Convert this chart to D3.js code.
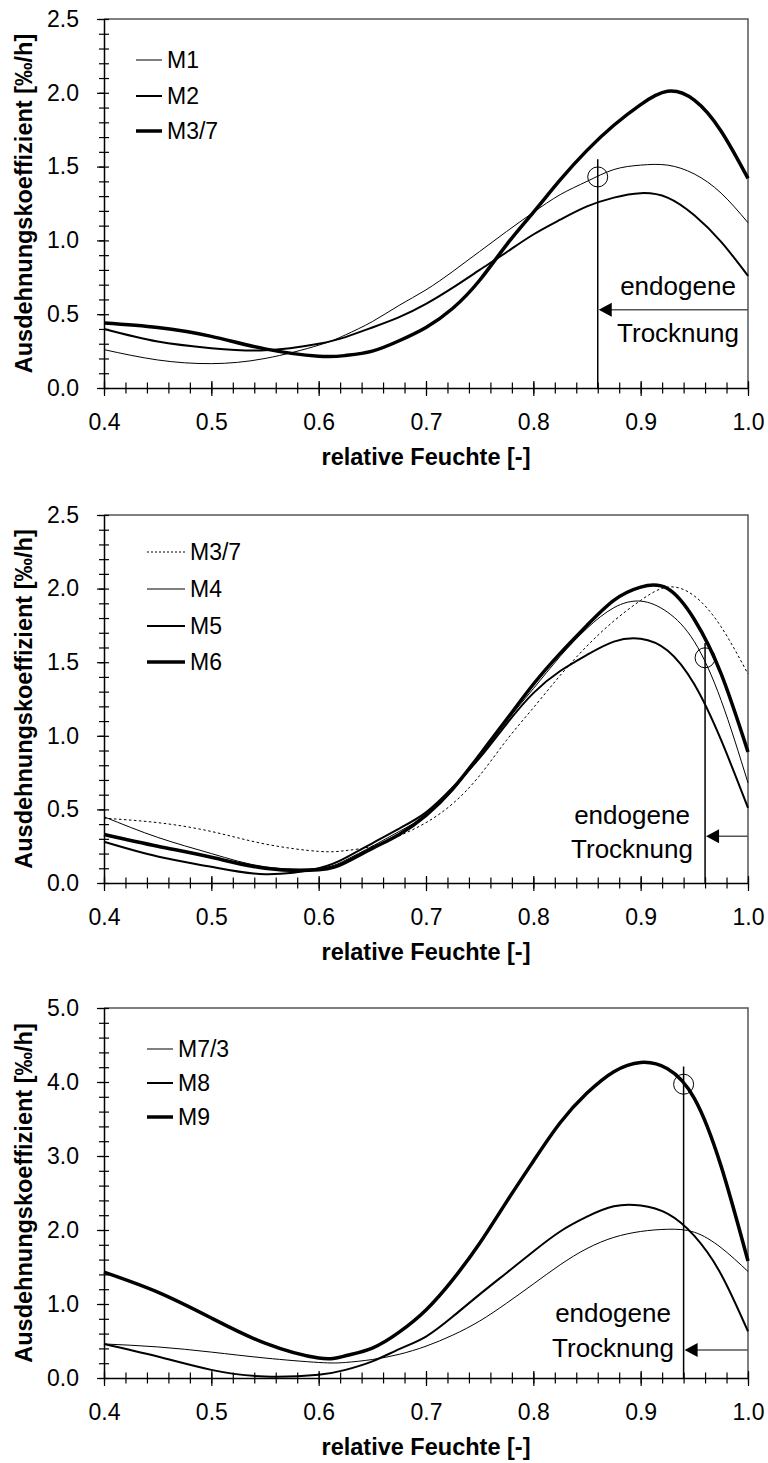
<!DOCTYPE html>
<html>
<head>
<meta charset="utf-8">
<script src="https://cdn.jsdelivr.net/npm/d3@7"></script>
<style>
  body { margin: 0; background: #fff; }
  svg { display: block; font-family: "Liberation Sans", Arial, sans-serif; }
</style>
</head>
<body>
<div id="chart"></div>
<script>
// relative humidity grid shared by all curves
const rh = [0.40, 0.45, 0.50, 0.55, 0.60, 0.625, 0.65, 0.675, 0.70, 0.725, 0.75,
            0.775, 0.80, 0.825, 0.85, 0.875, 0.90, 0.925, 0.95, 0.975, 1.00];

// panel 1
const m1  = [0.26, 0.19, 0.165, 0.20, 0.29, 0.36, 0.45, 0.56, 0.665, 0.79, 0.925,
             1.06, 1.19, 1.31, 1.40, 1.48, 1.51, 1.51, 1.45, 1.32, 1.12];
const m2  = [0.40, 0.315, 0.27, 0.255, 0.30, 0.345, 0.41, 0.48, 0.57, 0.68, 0.80,
             0.92, 1.04, 1.14, 1.23, 1.29, 1.32, 1.29, 1.17, 0.99, 0.76];
const m37 = [0.44, 0.41, 0.35, 0.265, 0.215, 0.22, 0.25, 0.32, 0.41, 0.54, 0.73,
             0.97, 1.19, 1.41, 1.61, 1.78, 1.92, 2.01, 1.95, 1.74, 1.42];
// panel 2
const m4  = [0.45, 0.31, 0.20, 0.11, 0.10, 0.155, 0.25, 0.35, 0.46, 0.63, 0.86,
             1.10, 1.32, 1.54, 1.73, 1.87, 1.915, 1.84, 1.64, 1.24, 0.68];
const m5  = [0.28, 0.18, 0.11, 0.06, 0.10, 0.17, 0.27, 0.37, 0.48, 0.65, 0.85,
             1.08, 1.29, 1.44, 1.55, 1.64, 1.66, 1.58, 1.35, 0.97, 0.51];
const m6  = [0.33, 0.25, 0.175, 0.10, 0.09, 0.14, 0.235, 0.33, 0.46, 0.64, 0.87,
             1.11, 1.35, 1.56, 1.75, 1.92, 2.01, 2.00, 1.79, 1.42, 0.89];
// panel 3
const m73 = [0.46, 0.42, 0.35, 0.27, 0.21, 0.21, 0.25, 0.32, 0.43, 0.58, 0.77,
             1.01, 1.27, 1.53, 1.75, 1.90, 1.98, 2.01, 1.97, 1.76, 1.44];
const m8  = [0.46, 0.29, 0.11, 0.02, 0.045, 0.11, 0.225, 0.39, 0.56, 0.83, 1.13,
             1.42, 1.71, 1.98, 2.18, 2.32, 2.33, 2.22, 1.92, 1.40, 0.63];
const m9  = [1.43, 1.16, 0.81, 0.47, 0.27, 0.30, 0.405, 0.62, 0.92, 1.33, 1.82,
             2.38, 2.93, 3.45, 3.85, 4.14, 4.265, 4.18, 3.78, 2.86, 1.58];

// endogenous drying markers (one per panel)
const dryRh    = [0.86, 0.96, 0.94];
const dryValue = [1.43, 1.53, 3.97];
const dryTop   = [1.55, 1.63, 4.21];
const dryArrow = [0.53, 0.317, 0.38];

// tick labels
const xTicks  = [0.4, 0.5, 0.6, 0.7, 0.8, 0.9, 1.0];
const yTicksA = [0, 0.5, 1.0, 1.5, 2.0, 2.5];
const yTicksB = [0, 1, 2, 3, 4, 5];

const width = 768, height = 1463;
const left = 104, right = 748;
const fmt = d3.format(".1f");

const svg = d3.select("#chart").append("svg")
    .attr("width", width)
    .attr("height", height);

const panels = [
    {
        top: 19, bottom: 388, yMax: 2.5, yTicks: yTicksA, minor: 0.1,
        series: [
            { name: "M1", v: m1, w: 1 },
            { name: "M2", v: m2, w: 2 },
            { name: "M3/7", v: m37, w: 3.5 }
        ],
        leg: { x1: 136, x2: 162, rows: [41, 77, 112] },
        txt: { x: 678, y1: 295, y2: 342 }
    },
    {
        top: 515, bottom: 883, yMax: 2.5, yTicks: yTicksA, minor: 0.1,
        series: [
            { name: "M3/7", v: m37, w: 1, dash: "2.5,2.5" },
            { name: "M4", v: m4, w: 1 },
            { name: "M5", v: m5, w: 2 },
            { name: "M6", v: m6, w: 3.5 }
        ],
        leg: { x1: 147, x2: 185, rows: [37, 74, 111, 147] },
        txt: { x: 632, y1: 824, y2: 858 }
    },
    {
        top: 1008, bottom: 1378, yMax: 5, yTicks: yTicksB, minor: 0.2,
        series: [
            { name: "M7/3", v: m73, w: 1 },
            { name: "M8", v: m8, w: 2 },
            { name: "M9", v: m9, w: 3.5 }
        ],
        leg: { x1: 147, x2: 173, rows: [41, 75, 109] },
        txt: { x: 613, y1: 1322, y2: 1357 }
    }
];

panels.forEach(function (p, i) {
    const x = d3.scaleLinear().domain([0.4, 1.0]).range([left, right]);
    const y = d3.scaleLinear().domain([0, p.yMax]).range([p.bottom, p.top]);
    const g = svg.append("g");

    // frame top / right
    g.append("path")
        .attr("d", `M${left},${p.top}H${right}V${p.bottom}`)
        .attr("fill", "none")
        .attr("stroke", "#555")
        .attr("stroke-width", 1.5);

    // y axis: minor ticks crossing the axis
    const yMinor = d3.range(0, p.yMax + 1e-9, p.minor);
    g.append("g")
        .attr("transform", `translate(${left},0)`)
        .call(d3.axisLeft(y).tickValues(yMinor).tickSize(5).tickFormat(""))
        .call(a => a.select(".domain").remove());
    g.append("g")
        .attr("transform", `translate(${left},0)`)
        .call(d3.axisRight(y).tickValues(yMinor).tickSize(5).tickFormat(""))
        .call(a => a.select(".domain").remove());
    const ya = g.append("g")
        .attr("transform", `translate(${left},0)`)
        .call(d3.axisLeft(y).tickValues(p.yTicks).tickSize(7).tickPadding(18).tickFormat(fmt).tickSizeOuter(0));
    ya.selectAll("text").attr("font-size", 23).attr("fill", "#000");

    // x axis
    const xMinor = d3.range(0.4, 1.0 + 1e-9, 0.02);
    g.append("g")
        .attr("transform", `translate(0,${p.bottom})`)
        .call(d3.axisBottom(x).tickValues(xMinor).tickSize(5.5).tickFormat(""))
        .call(a => a.select(".domain").remove());
    g.append("g")
        .attr("transform", `translate(0,${p.bottom})`)
        .call(d3.axisTop(x).tickValues(xMinor).tickSize(5.5).tickFormat(""))
        .call(a => a.select(".domain").remove());
    g.append("g")
        .attr("transform", `translate(0,${p.bottom})`)
        .call(d3.axisTop(x).tickValues(xTicks).tickSize(7).tickFormat(""))
        .call(a => a.select(".domain").remove());
    const xa = g.append("g")
        .attr("transform", `translate(0,${p.bottom})`)
        .call(d3.axisBottom(x).tickValues(xTicks).tickSize(8).tickPadding(18).tickFormat(fmt).tickSizeOuter(0));
    xa.selectAll("text").attr("font-size", 23).attr("fill", "#000");

    g.selectAll(".domain").attr("stroke", "#000").attr("stroke-width", 1.5);
    g.selectAll(".tick line").attr("stroke", "#000").attr("stroke-width", 1.2);

    // titles
    g.append("text")
        .attr("x", (left + right) / 2)
        .attr("y", p.bottom + 77)
        .attr("text-anchor", "middle")
        .attr("font-size", 23.5)
        .attr("font-weight", "bold")
        .text("relative Feuchte [-]");
    g.append("text")
        .attr("transform", `translate(31.5,${(p.top + p.bottom) / 2}) rotate(-90)`)
        .attr("text-anchor", "middle")
        .attr("font-size", 23.5)
        .attr("font-weight", "bold")
        .text("Ausdehnungskoeffizient [‰/h]");

    // curves
    const line = d3.line()
        .x((d, j) => x(rh[j]))
        .y(d => y(d))
        .curve(d3.curveNatural);

    p.series.forEach(function (s) {
        g.append("path")
            .datum(s.v)
            .attr("d", line)
            .attr("fill", "none")
            .attr("stroke", "#000")
            .attr("stroke-width", s.w)
            .attr("stroke-dasharray", s.dash || null);
    });

    // legend
    p.series.forEach(function (s, k) {
        const ly = p.top + p.leg.rows[k];
        g.append("line")
            .attr("x1", p.leg.x1).attr("x2", p.leg.x2)
            .attr("y1", ly).attr("y2", ly)
            .attr("stroke", "#000")
            .attr("stroke-width", s.w)
            .attr("stroke-dasharray", s.dash ? "2,2" : null);
        g.append("text")
            .attr("x", p.leg.x2 + 5)
            .attr("y", ly)
            .attr("dy", "0.36em")
            .attr("font-size", 23)
            .text(s.name);
    });

    // endogene Trocknung marker
    const dx = x(dryRh[i]);
    g.append("line")
        .attr("x1", dx).attr("x2", dx)
        .attr("y1", y(0)).attr("y2", y(dryTop[i]))
        .attr("stroke", "#000")
        .attr("stroke-width", 1.5);
    g.append("circle")
        .attr("cx", dx).attr("cy", y(dryValue[i]))
        .attr("r", 10)
        .attr("fill", "none")
        .attr("stroke", "#000")
        .attr("stroke-width", 1);
    const ay = y(dryArrow[i]);
    g.append("line")
        .attr("x1", right).attr("x2", dx + 10)
        .attr("y1", ay).attr("y2", ay)
        .attr("stroke", "#555")
        .attr("stroke-width", 1.5);
    g.append("path")
        .attr("d", `M${dx + 1},${ay}L${dx + 14},${ay - 7}L${dx + 14},${ay + 7}Z`)
        .attr("fill", "#000");
    g.append("text")
        .attr("x", p.txt.x).attr("y", p.txt.y1)
        .attr("text-anchor", "middle")
        .attr("font-size", 26)
        .text("endogene");
    g.append("text")
        .attr("x", p.txt.x).attr("y", p.txt.y2)
        .attr("text-anchor", "middle")
        .attr("font-size", 26)
        .text("Trocknung");
});
</script>
</body>
</html>
